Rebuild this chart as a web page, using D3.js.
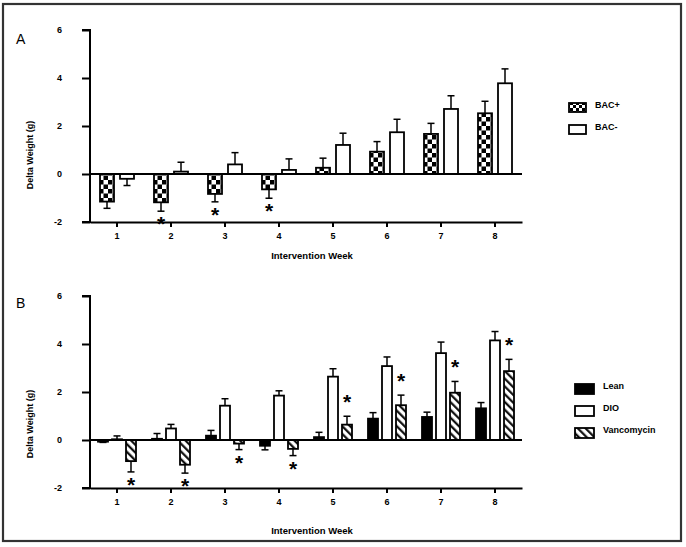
<!DOCTYPE html>
<html><head><meta charset="utf-8">
<script src="https://cdn.jsdelivr.net/npm/d3@7"></script>
<style>
body{margin:0;background:#fff;}
text{font-family:"Liberation Sans",Arial,sans-serif;}
</style></head>
<body>
<svg id="chart" width="686" height="547"></svg>
<script>
// ---- data ----
const weeks = ["1","2","3","4","5","6","7","8"];
const yTicks = [-2, 0, 2, 4, 6];

const bacPlus     = [-1.15, -1.18, -0.83, -0.64, 0.26, 0.93, 1.67, 2.53];
const bacPlusErr  = [0.28, 0.37, 0.33, 0.37, 0.40, 0.42, 0.44, 0.50];
const bacMinus    = [-0.20, 0.10, 0.40, 0.17, 1.21, 1.74, 2.71, 3.78];
const bacMinusErr = [0.28, 0.39, 0.49, 0.46, 0.49, 0.54, 0.55, 0.60];
const sigA = [false, true, true, true, false, false, false, false]; // on BAC+

const lean     = [-0.07, 0.05, 0.18, -0.24, 0.12, 0.89, 0.96, 1.32];
const leanErr  = [0.03, 0.22, 0.22, 0.17, 0.20, 0.25, 0.20, 0.24];
const dio      = [0.03, 0.48, 1.43, 1.85, 2.64, 3.08, 3.62, 4.15];
const dioErr   = [0.14, 0.17, 0.29, 0.20, 0.33, 0.38, 0.46, 0.37];
const vanc     = [-0.88, -1.03, -0.15, -0.37, 0.64, 1.45, 1.97, 2.87];
const vancErr  = [0.45, 0.35, 0.25, 0.28, 0.35, 0.42, 0.47, 0.49];
const sigB = [true, true, true, true, true, true, true, true]; // on Vancomycin

const seriesA = [
  {name:"BAC+", values:bacPlus, errs:bacPlusErr, fill:"url(#checker)", legendFill:"url(#checkerSmall)", sig:sigA},
  {name:"BAC-", values:bacMinus, errs:bacMinusErr, fill:"#fff", legendFill:"#fff", sig:null}
];
const seriesB = [
  {name:"Lean", values:lean, errs:leanErr, fill:"#000", legendFill:"#000", sig:null},
  {name:"DIO", values:dio, errs:dioErr, fill:"#fff", legendFill:"#fff", sig:null},
  {name:"Vancomycin", values:vanc, errs:vancErr, fill:"url(#hatch)", legendFill:"url(#hatch)", sig:sigB}
];

// ---- drawing ----
const svg = d3.select("#chart");
const defs = svg.append("defs");

// checker pattern
const ck = defs.append("pattern").attr("id","checker").attr("patternUnits","userSpaceOnUse")
  .attr("width",9).attr("height",9);
ck.append("rect").attr("width",9).attr("height",9).attr("fill","#fff");
ck.append("rect").attr("x",0).attr("y",0).attr("width",4.5).attr("height",4.5).attr("fill","#000");
ck.append("rect").attr("x",4.5).attr("y",4.5).attr("width",4.5).attr("height",4.5).attr("fill","#000");

const cks = defs.append("pattern").attr("id","checkerSmall").attr("patternUnits","userSpaceOnUse")
  .attr("width",6).attr("height",6);
cks.append("rect").attr("width",6).attr("height",6).attr("fill","#fff");
cks.append("rect").attr("x",0).attr("y",0).attr("width",3).attr("height",3).attr("fill","#000");
cks.append("rect").attr("x",3).attr("y",3).attr("width",3).attr("height",3).attr("fill","#000");

// hatch pattern "\\"
const ht = defs.append("pattern").attr("id","hatch").attr("patternUnits","userSpaceOnUse")
  .attr("width",5.5).attr("height",10).attr("patternTransform","rotate(-45)");
ht.append("rect").attr("width",5.5).attr("height",10).attr("fill","#fff");
ht.append("line").attr("x1",1.2).attr("y1",0).attr("x2",1.2).attr("y2",10)
  .attr("stroke","#000").attr("stroke-width",2.1);

// outer border
svg.append("rect").attr("x",3).attr("y",4).attr("width",678).attr("height",537)
  .attr("fill","none").attr("stroke","#333").attr("stroke-width",2.2);

function panel(cfg){
  const g = svg.append("g");
  const x = d3.scaleBand().domain(weeks).range([90,522]).padding(0);
  const y = d3.scaleLinear().domain([-2,6]).range([cfg.yBottom, cfg.yTop]);
  const n = cfg.series.length;
  const inner = d3.scaleBand().domain(d3.range(n)).range([0,cfg.groupW]).paddingInner(cfg.innerPad).paddingOuter(0);

  // y axis
  const yAxis = d3.axisLeft(y).tickValues(yTicks).tickSize(8).tickPadding(20).tickFormat(d3.format("d"));
  const ya = g.append("g").attr("transform","translate(90,0)").call(yAxis);
  ya.select(".domain").attr("stroke-width",2).attr("d",`M-8,${y(6)}H0V${y(-2)}H-8`);
  ya.selectAll(".tick line").attr("stroke-width",2);
  ya.selectAll(".tick text").attr("font-size",9).attr("font-weight","bold").attr("fill","#000")
    .text(d => d < 0 ? "-" + Math.abs(d) : d);

  // x axis at bottom
  const xAxis = d3.axisBottom(x).tickSize(5).tickPadding(6).tickSizeOuter(0);
  const xa = g.append("g").attr("transform",`translate(0,${y(-2)})`).call(xAxis);
  xa.select(".domain").attr("stroke-width",2);
  xa.selectAll(".tick line").attr("stroke-width",2);
  xa.selectAll(".tick text").attr("font-size",9).attr("font-weight","bold").attr("fill","#000");

  // bars
  cfg.series.forEach((s,si) => {
    const off = d => x(d) + (x.bandwidth()-cfg.groupW)/2 + inner(si);
    const bw = inner.bandwidth();
    g.append("g").selectAll("rect").data(weeks).join("rect")
      .attr("x", (d) => off(d))
      .attr("width", bw)
      .attr("y", (d,i) => y(Math.max(0, s.values[i])))
      .attr("height", (d,i) => Math.abs(y(s.values[i]) - y(0)))
      .attr("fill", s.fill).attr("stroke","#000").attr("stroke-width",1.8);
    // error bars (one-sided)
    const eg = g.append("g").attr("stroke","#000").attr("stroke-width",1.5);
    weeks.forEach((d,i) => {
      const v = s.values[i], e = s.errs[i];
      const end = v >= 0 ? v + e : v - e;
      const cx = off(d) + bw/2;
      eg.append("line").attr("x1",cx).attr("x2",cx).attr("y1",y(v)).attr("y2",y(end));
      eg.append("line").attr("x1",cx-3.5).attr("x2",cx+3.5).attr("y1",y(end)).attr("y2",y(end));
      if (s.sig && s.sig[i]) {
        const cy = v >= 0 ? y(end) - 19 : y(end) + 8;
        g.append("text").attr("x",cx).attr("y",cy + 12).attr("text-anchor","middle")
          .attr("font-size",21).attr("font-weight","bold").text("*");
      }
    });
  });

  // zero line
  g.append("line").attr("x1",90).attr("x2",522).attr("y1",y(0)).attr("y2",y(0))
    .attr("stroke","#000").attr("stroke-width",2);

  // titles
  g.append("text").attr("transform",`translate(33,${cfg.yTitleY}) rotate(-90)`)
    .attr("text-anchor","middle").attr("font-size",9).attr("font-weight","bold").text("Delta Weight (g)");
  g.append("text").attr("x",312).attr("y",cfg.xTitleY).attr("text-anchor","middle")
    .attr("font-size",9.5).attr("font-weight","bold").text("Intervention Week");
  g.append("text").attr("x",16).attr("y",cfg.letterY).attr("font-size",14).text(cfg.letter);

  // legend
  const lg = g.append("g");
  cfg.series.forEach((s,si) => {
    const ly = cfg.legendY + si*cfg.legendStep;
    lg.append("rect").attr("x",cfg.legendX).attr("y",ly).attr("width",cfg.swW).attr("height",cfg.swH)
      .attr("fill",s.legendFill).attr("stroke","#000").attr("stroke-width",1.8);
    lg.append("text").attr("x",cfg.legendX + cfg.swW + 9).attr("y",ly + 5)
      .attr("font-size",9).attr("font-weight","bold").text(s.name);
  });
}

panel({series:seriesA, yTop:30, yBottom:222, groupW:34, innerPad:0.3,
  yTitleY:155, xTitleY:259, letter:"A", letterY:44,
  legendX:569, legendY:103, legendStep:22, swW:17, swH:9});
panel({series:seriesB, yTop:296, yBottom:488, groupW:38, innerPad:0.2857,
  yTitleY:424, xTitleY:534, letter:"B", letterY:308,
  legendX:575, legendY:384, legendStep:22, swW:19, swH:10});
</script>
</body></html>
